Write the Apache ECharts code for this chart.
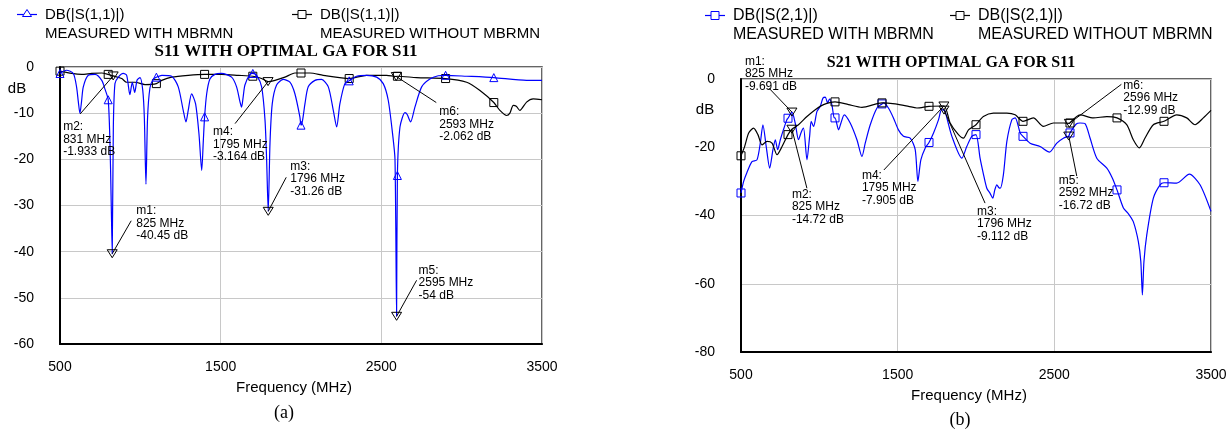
<!DOCTYPE html>
<html><head><meta charset="utf-8">
<script src="https://cdn.jsdelivr.net/npm/echarts@6/dist/echarts.min.js"></script>
<style>html,body{margin:0;padding:0;background:#fff}#c{width:1230px;height:434px}</style>
</head><body><div id="c"></div>
<script>
// ---------- DATA ----------
const xTicks = [500, 1500, 2500, 3500];
const markerFreqs = [500, 800, 1100, 1400, 1700, 2000, 2300, 2600, 2900, 3200];

// S11 measured with MBRMN (blue)
const s11With = [[500,-1.4],[540,-0.7],[583,-1.4],[603,-4.3],[614,-7.5],[624,-10.0],[634,-7.5],[645,-4.3],[676,-1.8],[718,-1.6],[760,-2.9],[780,-4.8],[800,-7.1],[811,-16.5],[818,-28],[825,-40.45],[832,-13],[842,-3.6],[863,-2.2],[894,-1.4],[915,-1.8],[935,-6.0],[950,-3.3],[965,-5.5],[980,-2.8],[998,-2.3],[1015,-5],[1025,-11],[1035,-25.4],[1045,-11],[1060,-4.5],[1081,-2.6],[1100,-2.2],[1134,-1.8],[1195,-2.0],[1236,-4.3],[1267,-9.4],[1284,-11.9],[1298,-9.4],[1319,-5.8],[1344,-8],[1365,-14.5],[1382,-22.4],[1392,-16],[1400,-10.8],[1413,-5.8],[1433,-2.6],[1464,-1.6],[1505,-1.4],[1568,-2.2],[1599,-4.3],[1620,-7.5],[1630,-8.7],[1640,-6.5],[1651,-3.9],[1682,-1.6],[1700,-1.4],[1724,-1.8],[1755,-4.3],[1776,-11.5],[1786,-20],[1796,-31.26],[1807,-16.5],[1821,-8],[1848,-3.9],[1890,-2.7],[1931,-3.3],[1962,-5.8],[1993,-10.8],[2000,-12.6],[2010,-11.5],[2025,-7.9],[2045,-4.3],[2087,-2.9],[2128,-2.7],[2170,-4.3],[2201,-9.4],[2222,-13],[2242,-8],[2273,-3.6],[2300,-3.0],[2346,-2.0],[2408,-1.8],[2471,-2.2],[2512,-3.6],[2543,-7.2],[2570,-14.5],[2585,-20],[2595,-54],[2600,-23.5],[2616,-13],[2647,-9.9],[2661,-10.3],[2682,-11.9],[2709,-8.7],[2751,-4.3],[2802,-2.6],[2854,-1.9],[2900,-1.8],[3031,-2.0],[3200,-2.3],[3404,-2.9],[3500,-2.9]];

// S11 measured without MBRMN (black)
const s11Without = [[500,-0.9],[573,-1.4],[635,-1.6],[697,-1.4],[759,-1.3],[800,-1.6],[831,-1.933],[884,-2.5],[915,-3.3],[967,-3.3],[1029,-3.8],[1100,-3.6],[1133,-2.9],[1195,-2.2],[1298,-1.8],[1400,-1.6],[1506,-1.6],[1610,-1.8],[1700,-2.0],[1755,-2.5],[1795,-3.164],[1838,-2.9],[1900,-2.2],[1962,-1.3],[2000,-1.3],[2056,-1.3],[2138,-1.8],[2300,-2.5],[2408,-1.8],[2533,-1.8],[2593,-2.062],[2600,-2.0],[2720,-2.3],[2900,-2.5],[3031,-3.3],[3114,-5.1],[3200,-7.7],[3238,-9.4],[3280,-10.5],[3300,-10.0],[3321,-8.3],[3340,-8.5],[3362,-9.4],[3404,-7.6],[3445,-6.9],[3500,-7.1]];

// S21 measured with MBRMN (blue)
const s21With = [[500,-33.4],[517,-30],[538,-27.4],[570,-24.2],[602,-23.7],[623,-18.8],[640,-13.4],[661,-19.8],[683,-26.1],[704,-20.7],[719,-17.8],[734,-20.7],[751,-17.8],[770,-15],[793,-11.9],[800,-11.5],[825,-9.691],[846,-12.9],[867,-17.8],[885,-15.5],[899,-14.4],[921,-23.7],[938,-16.8],[948,-12.4],[963,-13.9],[985,-9.5],[1006,-8.0],[1023,-5.6],[1038,-5.3],[1053,-7.0],[1065,-5.9],[1080,-7.5],[1095,-11.4],[1100,-11.4],[1123,-14.9],[1138,-12.9],[1159,-10.5],[1197,-12.9],[1240,-17.8],[1272,-22.7],[1293,-18.8],[1325,-13.4],[1368,-8.5],[1400,-7.3],[1410,-7.0],[1441,-8.5],[1473,-11.4],[1505,-14.9],[1537,-16.8],[1580,-17.3],[1612,-20.7],[1629,-30],[1648,-23.7],[1676,-20.2],[1700,-18.6],[1729,-15.8],[1761,-11.9],[1780,-9],[1796,-9.112],[1803,-9.5],[1846,-16.8],[1910,-23.2],[1941,-19.8],[1973,-16.8],[2000,-16.3],[2026,-23.2],[2048,-28],[2069,-32],[2090,-33.5],[2107,-34.9],[2120,-32.5],[2133,-31],[2145,-31.8],[2155,-32],[2175,-28],[2197,-18.3],[2229,-11.9],[2250,-11.4],[2282,-15.8],[2300,-16.8],[2345,-18.8],[2409,-19.8],[2469,-21.4],[2516,-18.8],[2560,-17.3],[2592,-16.72],[2600,-15.8],[2640,-13.2],[2664,-12.9],[2696,-13.1],[2728,-17.3],[2771,-23.2],[2835,-26.1],[2870,-29],[2900,-32.5],[2941,-37.8],[2973,-39.5],[3004,-41.8],[3036,-47.6],[3052,-53.5],[3062,-63.3],[3072,-53.5],[3090,-45.7],[3132,-34.9],[3175,-31],[3200,-30.4],[3281,-30.5],[3362,-27.9],[3430,-31],[3500,-38.8]];

// S21 measured without MBRMN (black)
const s21Without = [[500,-22.5],[523,-19.8],[549,-15.8],[580,-14.4],[608,-16.3],[634,-19.3],[666,-18.3],[698,-18.8],[730,-22.2],[762,-19.8],[800,-16.3],[825,-14.72],[867,-13.4],[921,-11],[974,-9],[1027,-7.5],[1100,-6.7],[1186,-7.5],[1272,-8.3],[1400,-7.0],[1484,-7.3],[1569,-8],[1623,-8.5],[1700,-8],[1795,-7.905],[1835,-12.9],[1888,-16.3],[1920,-17.3],[1952,-14.9],[2000,-13.4],[2047,-11],[2111,-10],[2197,-10],[2250,-10.5],[2300,-12.4],[2366,-11.4],[2430,-13.9],[2494,-12.9],[2558,-12.9],[2596,-12.99],[2600,-12.9],[2664,-10.5],[2749,-11.4],[2835,-11],[2900,-11.4],[2962,-13.4],[3004,-17.8],[3043,-20.2],[3079,-17.3],[3132,-13.4],[3200,-12.4],[3281,-10.5],[3345,-11.4],[3398,-13.4],[3451,-11.4],[3500,-9.2]];

const s11Markers = [
  {name:'m1', f:825, db:-40.45},
  {name:'m2', f:831, db:-1.933},
  {name:'m3', f:1796, db:-31.26},
  {name:'m4', f:1795, db:-3.164},
  {name:'m5', f:2595, db:-54},
  {name:'m6', f:2593, db:-2.062}
];
const s21Markers = [
  {name:'m1', f:825, db:-9.691},
  {name:'m2', f:825, db:-14.72},
  {name:'m3', f:1796, db:-9.112},
  {name:'m4', f:1795, db:-7.905},
  {name:'m5', f:2592, db:-16.72},
  {name:'m6', f:2596, db:-12.99}
];

// ---------- LAYOUT (pixel offsets of marker labels) ----------
const s11Layout = {
  m1:{lx:19, ly:-33, tx:24, ty:-49},
  m2:{lx:-33, ly:38, tx:-50, ty:45},
  m3:{lx:18, ly:-34, tx:22, ty:-51},
  m4:{lx:-33, ly:42, tx:-55, ty:44},
  m5:{lx:20, ly:-36, tx:22, ty:-52},
  m6:{lx:40, ly:26, tx:43, ty:29}
};
const s21Layout = {
  m1:{lx:-23, ly:-24, tx:-47, ty:-57},
  m2:{lx:15, ly:59, tx:0, ty:59},
  m3:{lx:41, ly:93, tx:33, ty:95},
  m4:{lx:-60, ly:64, tx:-82, ty:63},
  m5:{lx:8, ly:40, tx:-10, ty:38},
  m6:{lx:52, ly:-39, tx:54, ty:-44}
};

const BLUE = '#0000ff';
const SANS = '"Liberation Sans", Arial, sans-serif';
const SERIF = '"Liberation Serif", "Times New Roman", serif';

function withMarkers(arr, sym) {
  return arr.map(([f, v]) => markerFreqs.includes(f)
    ? {value:[f, v], symbol:sym, symbolSize:8}
    : {value:[f, v], symbol:'none'});
}
function lineSeries(arr, sym, color, idx, z) {
  return {
    type:'line', xAxisIndex:idx, yAxisIndex:idx, data:withMarkers(arr, sym),
    showSymbol:true, showAllSymbol:true, symbol:'none', z:z,
    smooth:0.25,
    lineStyle:{color:color, width:1.2},
    itemStyle:{color:'rgba(255,255,255,0)', borderColor:color, borderWidth:1},
    emphasis:{disabled:true}
  };
}
function annotSeries(markers, layout, idx) {
  return {
    type:'custom', xAxisIndex:idx, yAxisIndex:idx, z:20, silent:true, clip:false,
    data: markers.map(m => [m.f, m.db]),
    renderItem(params, api) {
      const m = markers[params.dataIndex];
      const L = layout[m.name];
      const p = api.coord([api.value(0), api.value(1)]);
      return {type:'group', children:[
        {type:'polygon', shape:{points:[[p[0]-5, p[1]-4], [p[0]+5, p[1]-4], [p[0], p[1]+4]]},
         style:{fill:'rgba(255,255,255,0)', stroke:'#000', lineWidth:1}},
        {type:'line', shape:{x1:p[0], y1:p[1], x2:p[0]+L.lx, y2:p[1]+L.ly},
         style:{stroke:'#000', lineWidth:1}},
        {type:'text', x:p[0]+L.tx, y:p[1]+L.ty,
         style:{text: m.name + ':\n' + m.f + ' MHz\n' + m.db + ' dB',
                font:'12px ' + SANS, fill:'#000', lineHeight:12.5,
                textAlign:'left', textVerticalAlign:'top'}}
      ]};
    }
  };
}
function xAxisCfg(idx) {
  return {
    type:'value', gridIndex:idx, min:500, max:3500,
    name:'Frequency (MHz)', nameLocation:'middle', nameGap:36,
    nameTextStyle:{fontFamily:SANS, fontSize:15, color:'#000', padding:[0,14,0,0]},
    axisLine:{show:true, onZero:false, lineStyle:{color:'#000', width:2}},
    axisTick:{show:false, customValues:xTicks},
    axisLabel:{customValues:xTicks, margin:16, fontFamily:SANS, fontSize:14, color:'#000',
               formatter: v => String(v)},
    splitLine:{show:true, lineStyle:{color:'#c8c8c8', width:1}}
  };
}
function yAxisCfg(idx, min, interval) {
  return {
    type:'value', gridIndex:idx, min:min, max:0, interval:interval,
    axisLine:{show:true, onZero:false, lineStyle:{color:'#000', width:2}},
    axisTick:{show:false},
    axisLabel:{margin:26, fontFamily:SANS, fontSize:14, color:'#000', formatter: v => String(v)},
    splitLine:{show:true, lineStyle:{color:'#c8c8c8', width:1}}
  };
}

function legendItem(x, y, color, sym, fontSize, label1, label2) {
  const els = [
    {type:'line', shape:{x1:x, y1:y, x2:x+20, y2:y}, style:{stroke:color, lineWidth:1.2}}
  ];
  if (sym === 'triangle') {
    els.push({type:'polygon', shape:{points:[[x+10, y-5], [x+14.5, y+2], [x+5.5, y+2]]},
              style:{fill:'#fff', stroke:color, lineWidth:1}});
  } else {
    els.push({type:'rect', shape:{x:x+6, y:y-4, width:8, height:8},
              style:{fill:'#fff', stroke:color, lineWidth:1}});
  }
  els.push({type:'text', x:x+28, y:y, style:{text:label1, font:fontSize+'px '+SANS, fill:'#000', textVerticalAlign:'middle'}});
  els.push({type:'text', x:x+28, y:y+19, style:{text:label2, font:fontSize+'px '+SANS, fill:'#000', textVerticalAlign:'middle'}});
  return els;
}

const graphics = [].concat(
  legendItem(17, 14.5, BLUE, 'triangle', 15, 'DB(|S(1,1)|)', 'MEASURED WITH MBRMN'),
  legendItem(292, 14.5, '#000', 'rect', 15, 'DB(|S(1,1)|)', 'MEASURED WITHOUT MBRMN'),
  legendItem(705, 15.5, BLUE, 'rect', 16, 'DB(|S(2,1)|)', 'MEASURED WITH MBRMN'),
  legendItem(950, 15.5, '#000', 'rect', 16, 'DB(|S(2,1)|)', 'MEASURED WITHOUT MBRMN'),
  [
    {type:'text', x:286, y:52, style:{text:'S11 WITH OPTIMAL GA FOR S11', font:'bold 17px '+SERIF, fill:'#000', textAlign:'center', textVerticalAlign:'middle'}},
    {type:'text', x:951, y:63, style:{text:'S21 WITH OPTIMAL GA FOR S11', font:'bold 16px '+SERIF, fill:'#000', textAlign:'center', textVerticalAlign:'middle'}},
    {type:'text', x:17, y:89, style:{text:'dB', font:'15px '+SANS, fill:'#000', textAlign:'center', textVerticalAlign:'middle'}},
    {type:'text', x:705, y:110, style:{text:'dB', font:'15px '+SANS, fill:'#000', textAlign:'center', textVerticalAlign:'middle'}},
    {type:'text', x:284, y:413, style:{text:'(a)', font:'18px '+SERIF, fill:'#000', textAlign:'center', textVerticalAlign:'middle'}},
    {type:'text', x:960, y:420, style:{text:'(b)', font:'18px '+SERIF, fill:'#000', textAlign:'center', textVerticalAlign:'middle'}}
  ]
);

const chart = echarts.init(document.getElementById('c'), null, {renderer:'canvas'});
chart.setOption({
  animation:false,
  backgroundColor:'#fff',
  grid:[
    {left:60, top:67, width:482, height:277, show:true, borderColor:'#333', borderWidth:1.5, backgroundColor:'transparent'},
    {left:741, top:79, width:470, height:273, show:true, borderColor:'#333', borderWidth:1.5, backgroundColor:'transparent'}
  ],
  xAxis:[xAxisCfg(0), xAxisCfg(1)],
  yAxis:[yAxisCfg(0, -60, 10), yAxisCfg(1, -80, 20)],
  series:[
    lineSeries(s11Without, 'rect', '#000', 0, 2),
    lineSeries(s11With, 'triangle', BLUE, 0, 3),
    lineSeries(s21With, 'rect', BLUE, 1, 2),
    lineSeries(s21Without, 'rect', '#000', 1, 3),
    annotSeries(s11Markers, s11Layout, 0),
    annotSeries(s21Markers, s21Layout, 1)
  ],
  graphic:graphics
});
</script>
</body></html>
